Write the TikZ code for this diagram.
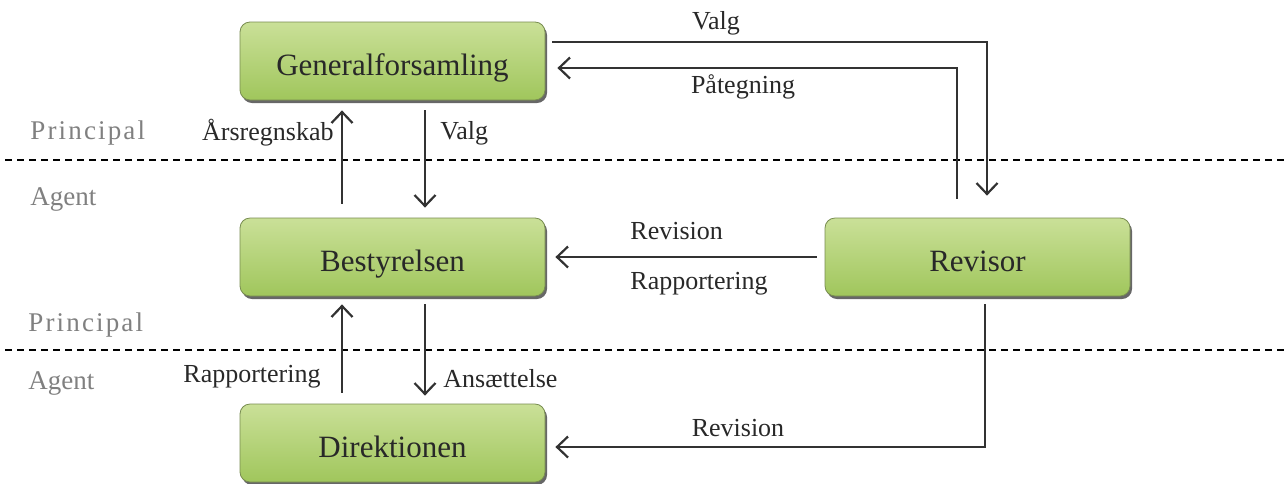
\documentclass[tikz,border=0pt]{standalone}
\usepackage{fontspec}
\setmainfont{Liberation Serif}
\usetikzlibrary{arrows.meta,shadows,calc}
\definecolor{gtop}{RGB}{202,224,152}
\definecolor{gbot}{RGB}{160,198,92}
\definecolor{gedge}{RGB}{120,140,80}
\definecolor{ink}{RGB}{40,40,40}
\definecolor{lineink}{RGB}{50,50,50}
\definecolor{side}{RGB}{128,128,128}
\tikzset{
  box/.style={rounded corners=5pt, minimum width=152.5pt, minimum height=39pt,
    top color=gtop, bottom color=gbot, draw=gedge, line width=0.4pt,
    drop shadow={shadow xshift=1pt, shadow yshift=-1.5pt, fill=black!70, opacity=0.85},
    text=ink, font=\fontsize{15.5}{18}\selectfont, inner sep=0pt,
    text height=14.5pt, text depth=0pt},
  lbl/.style={text=ink, font=\fontsize{13}{15}\selectfont, inner sep=0pt},
  side/.style={text=side, font=\fontsize{13.5}{15}\selectfont, inner sep=0pt, anchor=west},
  arr/.style={draw=lineink, line width=1.2pt, -{Straight Barb[length=5.5pt,width=10.5pt,line width=1.1pt]}},
  sep/.style={draw=black, line width=1.2pt, dash pattern=on 3.5pt off 2.5pt}
}
\begin{document}
\begin{tikzpicture}[x=0.5pt,y=-0.5pt]
\useasboundingbox (0,0) rectangle (1284,483);
% dashed separators
\coordinate (s1l) at (5,160); \coordinate (s1r) at (1284,160);
\coordinate (s2l) at (5,350); \coordinate (s2r) at (1284,350);
\draw[sep] (s1l) -- (s1r);
\draw[sep] (s2l) -- (s2r);
% side labels
\node[side] (p1) at (30,133) {\addfontfeatures{LetterSpace=8}Principal};
\node[side] (a1) at (30,199) {Agent};
\node[side] (p2) at (28,325) {\addfontfeatures{LetterSpace=8}Principal};
\node[side] (a2) at (28,383) {Agent};
% boxes
\node[box] (g) at (392.5,61) {Generalforsamling};
\node[box] (b) at (392.5,257) {Bestyrelsen};
\node[box] (d) at (392.5,443) {Direktionen};
\node[box] (r) at (977.5,257) {Revisor};
% helper coordinates
\coordinate (xa) at (342,0);
\coordinate (xb) at (425,0);
\coordinate (xv) at (987,0);
\coordinate (xp) at (957,0);
\coordinate (xr) at (985,0);
\coordinate (v1) at (552,42);
\coordinate (yp) at (0,68);
\coordinate (yr) at (0,447);
% vertical arrows
\draw[arr, shorten <=7pt, shorten >=5pt] (b.north -| xa) -- (g.south -| xa);
\draw[arr, shorten <=5pt, shorten >=5pt] (g.south -| xb) -- (b.north -| xb);
\draw[arr, shorten <=5.5pt, shorten >=4pt] (d.north -| xa) -- (b.south -| xa);
\draw[arr, shorten <=4pt, shorten >=4pt] (b.south -| xb) -- (d.north -| xb);
% Revisor -> Bestyrelsen
\draw[arr, shorten <=4pt, shorten >=5pt] (r.west) -- (b.east);
% Valg (top)
\draw[arr, shorten >=11pt] (v1) -| (r.north -| xv);
% Påtegning
\draw[arr, shorten <=9.5pt, shorten >=6pt] (r.north -| xp) |- (g.east |- yp);
% Revision (bottom)
\draw[arr, shorten <=4pt, shorten >=5pt] (r.south -| xr) |- (d.east |- yr);
% labels
\node[lbl] (lv1) at (716,23) {Valg};
\node[lbl] (lp) at (743,87) {Påtegning};
\node[lbl, anchor=east] (la) at (334,133) {Årsregnskab};
\node[lbl, anchor=west] (lv2) at (440,133) {Valg};
\node[lbl, anchor=west] (lrv) at (630,231) {Revision};
\node[lbl, anchor=west] (lrp) at (630,284) {Rapportering};
\node[lbl, anchor=east] (lr2) at (321,377) {Rapportering};
\node[lbl, anchor=west] (lan) at (443,379) {Ansættelse};
\node[lbl] (lrb) at (738,428) {Revision};
\end{tikzpicture}
\end{document}
